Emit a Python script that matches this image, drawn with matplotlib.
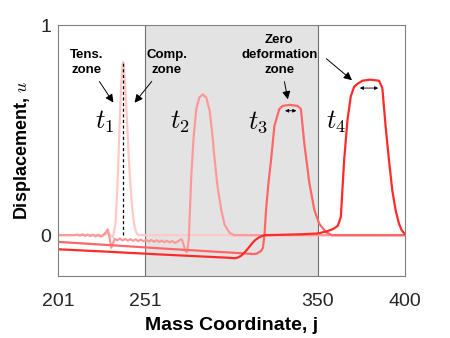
import matplotlib
matplotlib.use('Agg')
from matplotlib import pyplot as plt

plt.rcParams['font.family'] = ['Liberation Sans', 'DejaVu Sans']
plt.rcParams['mathtext.fontset'] = 'cm'

# curves: mass coordinate j, displacement u
t1_j = [201, 215, 225, 228, 229.5, 231, 232.5, 234, 235, 236, 237, 237.8, 238.3,
        238.9, 239.6, 240.5, 241.5, 242.5, 243.5, 244.5, 245.5, 247, 260, 300, 350, 400]
t1_u = [0, 0, 0, 0.003, 0.01, 0.0, -0.01, 0.06, 0.22, 0.45, 0.68, 0.8, 0.825,
        0.8, 0.7, 0.55, 0.38, 0.24, 0.13, 0.06, 0.02, 0.0, 0, 0, 0, 0]

t2_j = [201, 206, 210, 212, 213.5, 215, 216.5, 218, 219.5, 221, 222.5, 224, 225.5,
        227, 228.5, 229.5, 230.5, 231.5, 232.5, 233.5, 235, 236.5, 238, 239.5, 241,
        242.5, 244, 245.5, 247, 248.5, 250, 251.5, 253, 254.5, 256, 257.5, 259, 260.5,
        262, 263.5, 265, 266.5, 268, 269.5, 271, 272, 273, 274, 275, 276, 277.4,
        278.8, 280.3, 282, 284, 286, 288, 289.5, 290.8, 292.5, 294.6, 296.5, 299.3,
        302, 330, 370, 400]
t2_u = [0.0, 0.0, 0.0, 0.003, -0.002, 0.004, -0.003, 0.003, -0.004, 0.002, -0.006,
        0.002, -0.007, 0.0, 0.015, 0.028, -0.01, -0.06, -0.04, -0.018, -0.024,
        -0.016, -0.025, -0.018, -0.026, -0.019, -0.027, -0.02, -0.028, -0.021, -0.029,
        -0.022, -0.03, -0.023, -0.031, -0.024, -0.032, -0.026, -0.033, -0.027, -0.034,
        -0.028, -0.037, -0.031, -0.022, -0.02, -0.045, -0.075, -0.08, -0.02, 0.28,
        0.47, 0.6, 0.655, 0.67, 0.655, 0.59, 0.48, 0.36, 0.23, 0.12, 0.05, 0.012,
        0.0, 0, 0, 0]

t3_j = [201, 230, 260, 290, 310, 313, 315, 316.5, 317.5, 318.5, 319.4, 320.3, 321.7,
        323.2, 325.1, 327.9, 329.8, 334, 338.4, 340.3, 342.2, 345.1, 348, 350.8,
        354.6, 358, 380, 400]
t3_u = [-0.032, -0.047, -0.063, -0.078, -0.088, -0.09, -0.088, -0.08, -0.075, -0.06,
        0.0, 0.12, 0.25, 0.36, 0.52, 0.6, 0.615, 0.62, 0.615, 0.6, 0.44, 0.25, 0.12,
        0.055, 0.015, 0.0, 0.0, 0.0]

t4_j = [201, 230, 260, 290, 300, 302, 304, 306, 308, 310, 312, 314, 316, 318, 320,
        330, 340, 350, 355, 359, 361.5, 363.2, 365.1, 367, 368.9, 370.8, 372.7,
        375.6, 380, 385.1, 387, 388.9, 390.8, 392.7, 394.6, 396.5, 398, 399.4, 400]
t4_u = [-0.067, -0.079, -0.092, -0.104, -0.108, -0.11, -0.107, -0.098, -0.082,
        -0.063, -0.042, -0.024, -0.012, -0.004, 0.0, 0.002, 0.004, 0.008, 0.018, 0.03,
        0.045, 0.087, 0.357, 0.548, 0.66, 0.706, 0.72, 0.735, 0.74, 0.735, 0.70,
        0.516, 0.357, 0.214, 0.119, 0.056, 0.025, 0.01, 0.005]

colors = ['#ffc9c9', '#ff9999', '#ff6666', '#ff2b2b']
x_ticks = [201, 251, 350, 400]
y_ticks = [0, 1]
zone = (251, 350)

fig = plt.figure(figsize=(4.5, 3.38), dpi=100)
ax = fig.add_axes([0.129, 0.183, 0.771, 0.743])

ax.axvspan(zone[0], zone[1], color='#e3e3e3', zorder=0, lw=0)
for xv in zone:
    ax.axvline(xv, color='#6e6e6e', lw=0.8, zorder=1)

curves = [(t1_j, t1_u), (t2_j, t2_u), (t3_j, t3_u), (t4_j, t4_u)]
for (jj, uu), c in zip(curves, colors):
    ax.plot(jj, uu, color=c, lw=1.6, zorder=2)

# dashed line under the first pulse
ax.plot([238.3, 238.3], [0, 0.82], color='k', ls='--', lw=0.9, dashes=(2.5, 2), zorder=3)

for x, lab in zip([227.9, 270.8, 315.4, 360.5], ['$t_1$', '$t_2$', '$t_3$', '$t_4$']):
    ax.text(x, 0.54, lab, fontsize=19, ha='center', va='center')

arrow = dict(arrowstyle='-|>', color='k', lw=0.7, mutation_scale=12)
ax.annotate('Tens.\nzone', xy=(233.6, 0.62), xytext=(217.6, 0.82), fontsize=9.5,
            fontweight='bold', ha='center', va='center', arrowprops=arrow,
            linespacing=1.35)
ax.annotate('Comp.\nzone', xy=(243.9, 0.62), xytext=(263.3, 0.82), fontsize=9.5,
            fontweight='bold', ha='center', va='center', arrowprops=arrow,
            linespacing=1.35)
ax.annotate('Zero\ndeformation\nzone', xy=(333.1, 0.633), xytext=(327.9, 0.857),
            fontsize=9.5, fontweight='bold', ha='center', va='center',
            arrowprops=arrow, linespacing=1.35)
ax.annotate('', xy=(370.8, 0.729), xytext=(353.7, 0.848), arrowprops=arrow)

both = dict(arrowstyle='<|-|>', color='k', lw=0.6, mutation_scale=5)
ax.annotate('', xy=(329.6, 0.592), xytext=(339.3, 0.592), arrowprops=both)
ax.annotate('', xy=(372.5, 0.70), xytext=(386.2, 0.70), arrowprops=both)

ax.set_xlim(201, 400)
ax.set_ylim(-0.195, 1)
ax.set_xticks(x_ticks)
ax.set_yticks(y_ticks)
ax.tick_params(length=0, labelsize=14, labelcolor='#262626')
ax.tick_params(axis='x', pad=12)
ax.tick_params(axis='y', pad=5)
for s in ax.spines.values():
    s.set_color('#808080')
    s.set_linewidth(0.8)

ax.set_xlabel('Mass Coordinate, j', fontsize=14, fontweight='bold', labelpad=5)
ax.set_ylabel('Displacement, $u$', fontsize=13, fontweight='bold', labelpad=5)

plt.savefig('out.png', dpi=100)
